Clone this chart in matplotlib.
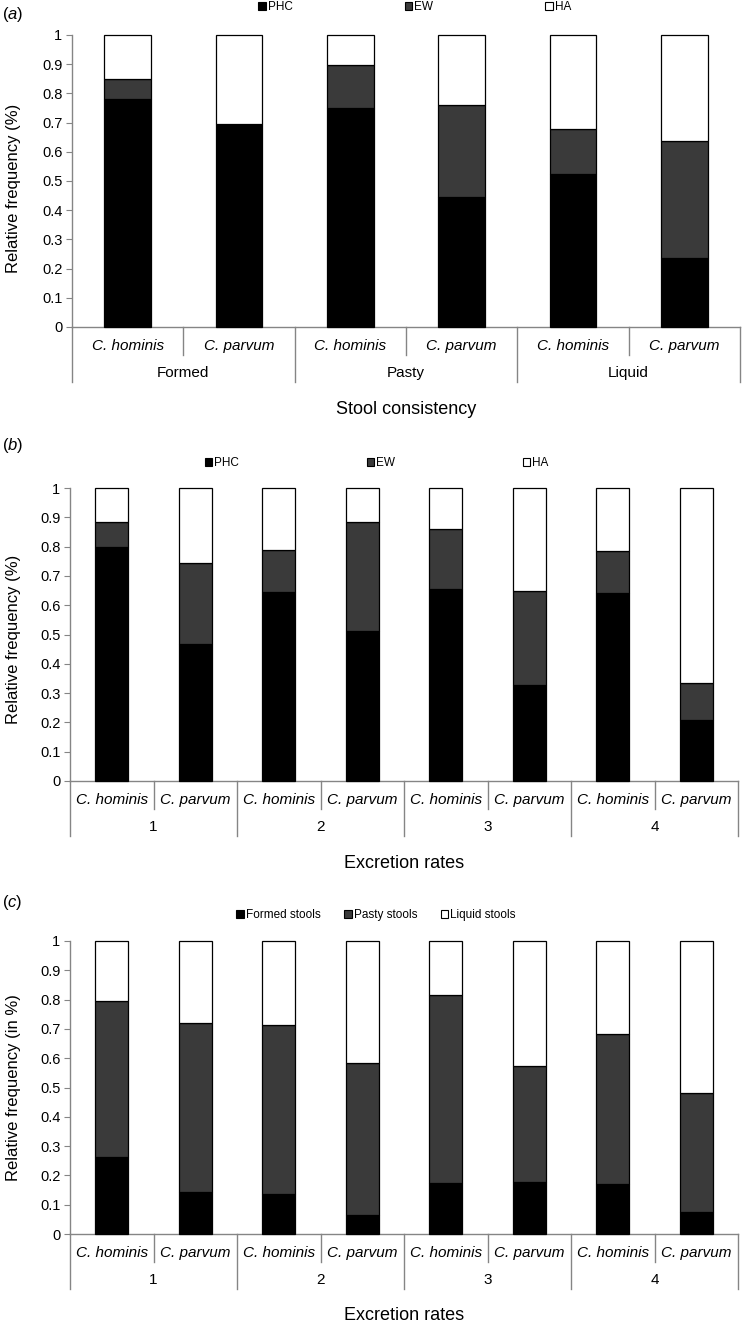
import numpy as np
import matplotlib
matplotlib.use("Agg")
import matplotlib.pyplot as plt
from matplotlib.patches import Patch
from matplotlib.ticker import FuncFormatter

plt.rcParams['font.family'] = ['Liberation Sans', 'DejaVu Sans']
plt.rcParams['mathtext.fontset'] = 'custom'
plt.rcParams['mathtext.it'] = 'Liberation Sans:italic'
plt.rcParams['mathtext.rm'] = 'Liberation Sans'

# categories
species = ['C. hominis', 'C. parvum']
stool_groups = ['Formed', 'Pasty', 'Liquid']
rate_groups = ['1', '2', '3', '4']

# (a) stool consistency -> symptoms
a_phc = [0.780, 0.695, 0.750, 0.445, 0.525, 0.237]
a_ew = [0.068, 0.000, 0.146, 0.315, 0.153, 0.401]
a_ha = [0.152, 0.305, 0.104, 0.240, 0.322, 0.362]

# (b) excretion rates -> symptoms
b_phc = [0.800, 0.467, 0.645, 0.513, 0.656, 0.326, 0.640, 0.209]
b_ew = [0.085, 0.278, 0.145, 0.372, 0.203, 0.321, 0.146, 0.127]
b_ha = [0.115, 0.255, 0.210, 0.115, 0.141, 0.353, 0.214, 0.664]

# (c) excretion rates -> stool consistency
c_formed = [0.262, 0.143, 0.136, 0.064, 0.173, 0.179, 0.170, 0.075]
c_pasty = [0.533, 0.576, 0.578, 0.518, 0.643, 0.394, 0.512, 0.407]
c_liquid = [0.205, 0.281, 0.286, 0.418, 0.184, 0.427, 0.318, 0.518]

COLORS = ['#000000', '#3a3a3a', '#ffffff']
AXCOL = '#858585'
W, H = 743, 1323


def panel(ax, series, names, groups, xtitle, ylabel, bar_w, leg_y, leg_x,
          colspace, ylab_shift):
    n = len(series[0])
    x = np.arange(n)
    bottom = np.zeros(n)
    for vals, col in zip(series, COLORS):
        ax.bar(x, vals, bar_w, bottom=bottom, color=col, edgecolor='black',
               linewidth=0.9, clip_on=False, zorder=3)
        bottom += np.array(vals)

    ax.set_xlim(-0.5, n - 0.5)
    ax.set_ylim(0, 1)
    ax.set_yticks(np.arange(0, 1.01, 0.1))
    ax.yaxis.set_major_formatter(FuncFormatter(lambda v, p: '%g' % round(v, 1)))
    ax.tick_params(axis='y', direction='out', length=4, color=AXCOL,
                   labelsize=10.5, pad=3)
    ax.tick_params(axis='x', bottom=False, labelbottom=False)
    for s in ['top', 'right']:
        ax.spines[s].set_visible(False)
    for s in ['left', 'bottom']:
        ax.spines[s].set_color(AXCOL)
        ax.spines[s].set_linewidth(1.0)

    # category table below the axis
    hpx = ax.get_position().height * H
    tr = ax.get_xaxis_transform()
    def fy(px):
        return -px / hpx
    for i in range(n):
        ax.text(i, fy(19), species[i % 2], ha='center', va='center',
                style='italic', fontsize=11, transform=tr)
    for i in range(1, n, 2):
        ax.plot([i - 0.5, i - 0.5], [0, fy(28)], color=AXCOL, lw=1.0,
                transform=tr, clip_on=False)
    for g in range(len(groups) + 1):
        xx = 2 * g - 0.5
        ax.plot([xx, xx], [0, fy(55)], color=AXCOL, lw=1.0,
                transform=tr, clip_on=False)
    for g, name in enumerate(groups):
        ax.text(2 * g + 0.5, fy(46), name, ha='center', va='center',
                fontsize=11, transform=tr)
    ax.text((n - 1) / 2, fy(82), xtitle, ha='center', va='center',
            fontsize=13, transform=tr)

    handles = [Patch(facecolor=c, edgecolor='black', linewidth=0.8) for c in COLORS]
    ax.legend(handles, names, loc='center', bbox_to_anchor=(leg_x, leg_y),
              ncol=3, frameon=False, fontsize=8.5, handlelength=0.65,
              handleheight=0.65, handletextpad=0.15, columnspacing=colspace,
              borderaxespad=0)

    pos = ax.get_position()
    fig.text(14 / W, pos.y0 + pos.height / 2 - ylab_shift / H, ylabel,
             rotation=90, ha='center', va='center', fontsize=12)


fig = plt.figure(figsize=(W / 100, H / 100), dpi=100)

ax_a = fig.add_axes([72 / W, 1 - 327 / H, 668 / W, 292 / H])
ax_b = fig.add_axes([70 / W, 1 - 781 / H, 668 / W, 293 / H])
ax_c = fig.add_axes([70 / W, 1 - 1234 / H, 668 / W, 293 / H])

panel(ax_a, [a_phc, a_ew, a_ha], ['PHC', 'EW', 'HA'], stool_groups,
      'Stool consistency', 'Relative frequency (%)', 0.42, 1.095, 0.513,
      9.5, 7)
panel(ax_b, [b_phc, b_ew, b_ha], ['PHC', 'EW', 'HA'], rate_groups,
      'Excretion rates', 'Relative frequency (%)', 0.4, 1.085, 0.459,
      10.8, 5)
panel(ax_c, [c_formed, c_pasty, c_liquid],
      ['Formed stools', 'Pasty stools', 'Liquid stools'], rate_groups,
      'Excretion rates', 'Relative frequency (in %)', 0.4, 1.089, 0.458,
      2.0, 0)

fig.text(2 / W, 1 - 14 / H, r'($\mathit{a}$)', fontsize=12, va='center')
fig.text(2 / W, 1 - 445 / H, r'($\mathit{b}$)', fontsize=12, va='center')
fig.text(2 / W, 1 - 903 / H, r'($\mathit{c}$)', fontsize=12, va='center')

fig.savefig('out.png', dpi=100)
